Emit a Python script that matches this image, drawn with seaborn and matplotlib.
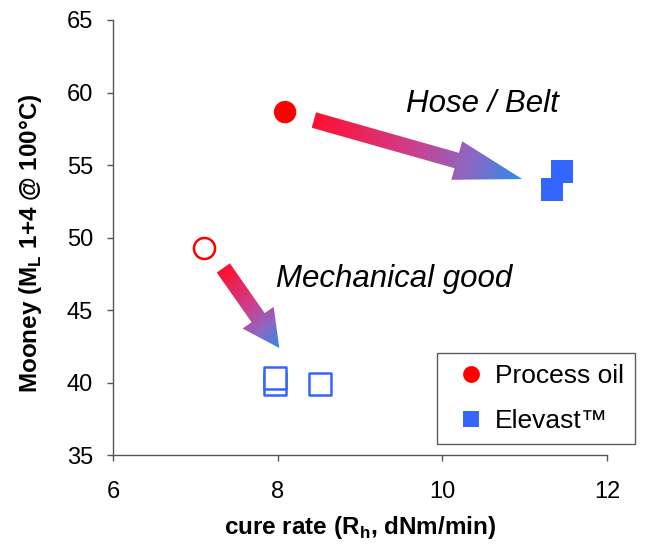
import numpy as np
import pandas as pd
import matplotlib
matplotlib.use("Agg")
import matplotlib.pyplot as plt
from matplotlib.patches import Polygon
from matplotlib.colors import LinearSegmentedColormap
import seaborn as sns

# --- data ---
material = ["Process oil", "Elevast™", "Elevast™"]          # Hose / Belt (filled)
cure_rate = [8.09, 11.33, 11.45]
mooney = [58.65, 53.3, 54.55]

open_material = ["Process oil", "Elevast™", "Elevast™", "Elevast™"]  # Mechanical good (open)
open_cure_rate = [7.10, 7.97, 7.97, 8.51]
open_mooney = [49.3, 39.9, 40.3, 39.9]

colors = {"Process oil": "#FF0000", "Elevast™": "#3366FF"}
markers = {"Process oil": "o", "Elevast™": "s"}

# arrows (tail -> tip) in data units
arrow_hose = [(8.44, 58.1), (10.97, 54.03)]
arrow_mech = [(7.34, 47.9), (8.02, 42.38)]

sns.set_style("white")
plt.rcParams["font.family"] = ["Liberation Sans", "DejaVu Sans"]
plt.rcParams["mathtext.fontset"] = "custom"
plt.rcParams["mathtext.rm"] = "Liberation Sans"
plt.rcParams["mathtext.bf"] = "Liberation Sans:bold"
plt.rcParams["text.color"] = "black"
plt.rcParams["axes.labelcolor"] = "black"

fig = plt.figure(figsize=(6.59, 5.49), dpi=100)
ax = fig.add_axes([113 / 659, 1 - 455 / 549, 494 / 659, 435 / 549])
ax.set_xlim(6, 12)
ax.set_ylim(35, 65)

grad = LinearSegmentedColormap.from_list(
    "red_blue", [(0, "#FF1030"), (0.45, "#D03C88"), (0.75, "#8C68C4"), (1, "#2A8CE8")])


def gradient_arrow(ax, tail, tip, shaft_w, head_w, head_l):
    # arrow outline built in pixels, filled with a red->blue gradient along its length
    p0 = ax.transData.transform(tail)
    p1 = ax.transData.transform(tip)
    d = p1 - p0
    L = np.hypot(*d)
    u = d / L
    n = np.array([-u[1], u[0]])
    base = p1 - u * head_l
    pts = np.array([
        p0 + n * shaft_w / 2, base + n * shaft_w / 2, base + n * head_w / 2,
        p1, base - n * head_w / 2, base - n * shaft_w / 2, p0 - n * shaft_w / 2,
    ])
    data_pts = ax.transData.inverted().transform(pts)
    poly = Polygon(data_pts, closed=True, fc="none", ec="none", transform=ax.transData)
    ax.add_patch(poly)
    x0, y0 = data_pts.min(axis=0)
    x1, y1 = data_pts.max(axis=0)
    gx, gy = np.meshgrid(np.linspace(x0, x1, 300), np.linspace(y0, y1, 300))
    disp = ax.transData.transform(np.column_stack([gx.ravel(), gy.ravel()]))
    t = np.clip(((disp - p0) @ u) / L, 0, 1).reshape(gx.shape)
    im = ax.imshow(grad(t)[..., :3], extent=(x0, x1, y0, y1), origin="lower", aspect="auto",
                   interpolation="bilinear", zorder=2)
    im.set_clip_path(poly)


gradient_arrow(ax, *arrow_hose, 16, 40, 68)
gradient_arrow(ax, *arrow_mech, 16, 38, 37)

df = pd.DataFrame({"cure": cure_rate, "mooney": mooney, "material": material})
df_open = pd.DataFrame({"cure": open_cure_rate, "mooney": open_mooney, "material": open_material})

sns.scatterplot(data=df, x="cure", y="mooney", hue="material", style="material",
                palette=colors, markers=markers, s=260, linewidth=0, ax=ax, zorder=3)
for m in ["Process oil", "Elevast™"]:
    sub = df_open[df_open["material"] == m]
    sns.scatterplot(data=sub, x="cure", y="mooney", marker=markers[m], color="white",
                    edgecolor=colors[m], linewidth=1.8, s=230, ax=ax, legend=False, zorder=3)

ax.set_xlim(6, 12)
ax.set_ylim(35, 65)
ax.set_xticks([6, 8, 10, 12])
ax.set_yticks([35, 40, 45, 50, 55, 60, 65])
ax.tick_params(axis="both", labelsize=17, direction="out", length=4.5, width=1,
               color="#555555", labelcolor="black", bottom=True, left=True)
ax.tick_params(axis="x", pad=14)
ax.tick_params(axis="y", pad=10)
for side in ["top", "right"]:
    ax.spines[side].set_visible(False)
for side in ["left", "bottom"]:
    ax.spines[side].set_color("#555555")
    ax.spines[side].set_linewidth(1)

ax.set_xlabel(r"cure rate (R$_\mathbf{h}$, dNm/min)", fontsize=17.5, fontweight="bold")
ax.set_ylabel(r"Mooney (M$_\mathbf{L}$ 1+4 @ 100°C)", fontsize=17.5, fontweight="bold")
ax.xaxis.set_label_coords(0.5, -0.135)
ax.yaxis.set_label_coords(-0.14, 0.487)

ax.text(10.49, 58.66, "Hose / Belt", fontsize=22.5, style="italic", ha="center", va="baseline")
ax.text(9.41, 46.59, "Mechanical good", fontsize=22.5, style="italic", ha="center", va="baseline")

handles, labels = ax.get_legend_handles_labels()
leg = ax.legend(handles, labels, loc="lower left", bbox_to_anchor=(0.656, 0.025),
                borderaxespad=0, fontsize=19, frameon=True, fancybox=False, markerscale=0.75,
                handlelength=1.7, handletextpad=0.05, labelspacing=0.78, borderpad=0.43,
                title=None)
leg.get_frame().set_edgecolor("#333333")
leg.get_frame().set_linewidth(1)

fig.savefig("out.png", dpi=100)
